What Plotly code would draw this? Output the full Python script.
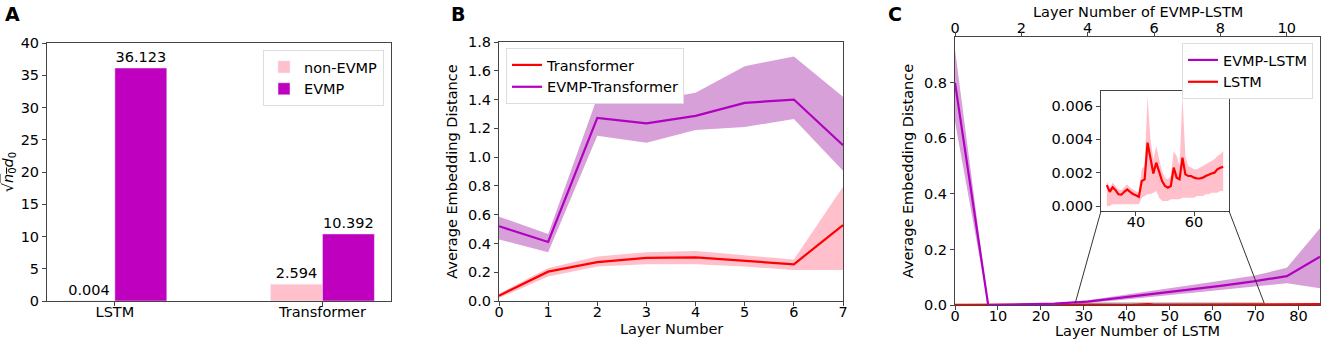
import plotly.graph_objects as go

# ---------------- Data ----------------
# Panel A
models = ["LSTM", "Transformer"]
non_evmp_vals = [0.004, 2.594]
evmp_vals = [36.123, 10.392]

# Panel B
layers_b = [0, 1, 2, 3, 4, 5, 6, 7]
tr_mean = [0.037, 0.204, 0.27, 0.30, 0.303, 0.28, 0.255, 0.528]
tr_upper = [0.05, 0.23, 0.31, 0.338, 0.347, 0.32, 0.289, 0.794]
tr_lower = [0.02, 0.17, 0.24, 0.255, 0.255, 0.24, 0.215, 0.215]
evtr_mean = [0.52, 0.41, 1.273, 1.234, 1.287, 1.377, 1.40, 1.083]
evtr_upper = [0.586, 0.465, 1.414, 1.39, 1.447, 1.632, 1.70, 1.42]
evtr_lower = [0.428, 0.338, 1.148, 1.10, 1.188, 1.21, 1.264, 0.905]

# Panel C - EVMP-LSTM (top axis)
layers_evlstm = [0, 1, 2, 3, 4, 5, 6, 7, 8, 9, 10, 11]
evlstm_mean = [0.80, 0.0, 0.002, 0.005, 0.012, 0.026, 0.040, 0.055, 0.069, 0.085, 0.104, 0.174]
evlstm_upper = [0.92, 0.0, 0.003, 0.007, 0.017, 0.034, 0.052, 0.070, 0.087, 0.105, 0.134, 0.276]
evlstm_lower = [0.66, 0.0, 0.001, 0.003, 0.008, 0.018, 0.030, 0.042, 0.053, 0.066, 0.078, 0.060]

# Panel C - LSTM (bottom axis), layers 0..85
lstm_layers = list(range(86))
lstm_mean = [
    0.0008, 0.0009, 0.0007, 0.0008, 0.0009, 0.0010, 0.0008, 0.0007, 0.0009, 0.0010,
    0.0011, 0.0009, 0.0008, 0.0010, 0.0012, 0.0011, 0.0009, 0.0010, 0.0012, 0.0013,
    0.0011, 0.0010, 0.0012, 0.0014, 0.0012, 0.0011, 0.0013, 0.0012, 0.0011, 0.0013,
    0.00125, 0.00085, 0.00112, 0.00095, 0.0007, 0.00068, 0.00085, 0.0010, 0.00085, 0.00072,
    0.00065, 0.00055, 0.0015, 0.0016, 0.0038, 0.0028, 0.00195, 0.0026, 0.0020, 0.0015,
    0.0012, 0.0011, 0.0012, 0.0023, 0.0017, 0.0016, 0.0029, 0.0019, 0.0018, 0.0018,
    0.0017, 0.00165, 0.00165, 0.0017, 0.0018, 0.0019, 0.00195, 0.0020, 0.0022, 0.0023,
    0.00235, 0.0024, 0.0025, 0.0026, 0.0026, 0.0027, 0.0028, 0.0029, 0.0030, 0.0030,
    0.0031, 0.0032, 0.0033, 0.0034, 0.0034, 0.0035,
]
# Inset (layers 30..70)
inset_layers = lstm_layers[30:71]
inset_mean = lstm_mean[30:71]
inset_upper = [
    0.0015, 0.0011, 0.0014, 0.0012, 0.0010, 0.00095, 0.0011, 0.0013, 0.0011, 0.0010,
    0.0009, 0.0008, 0.0022, 0.0024, 0.0066, 0.0040, 0.0028, 0.0036, 0.0028, 0.0021,
    0.0017, 0.0016, 0.0018, 0.0033, 0.0030, 0.0024, 0.0066, 0.0030, 0.0024, 0.0023,
    0.0022, 0.0022, 0.0023, 0.0024, 0.0025, 0.0026, 0.0027, 0.0028, 0.0030, 0.0031,
    0.0033,
]
inset_lower = [
    0.0000, 0.0000, 0.0001, 0.0001, 0.0001, 0.0001, 0.0001, 0.0001, 0.0001, 0.0001,
    0.0001, 0.0001, 0.0005, 0.0006, 0.0007, 0.0007, 0.0008, 0.0009, 0.0005, 0.0003,
    0.0003, 0.0003, 0.0004, 0.0004, 0.0004, 0.0004, 0.0005, 0.0005, 0.0005, 0.0005,
    0.0005, 0.0006, 0.0006, 0.0006, 0.0007, 0.0007, 0.0008, 0.0008, 0.0008, 0.0009,
    0.0009,
]

# ---------------- Styles ----------------
FONT = "DejaVu Sans"
FS = 14.5
PINK = "#FFC0CB"
MAG = "#BF00BF"
EVLINE = "#B000C0"
EVBAND = "rgb(216,160,216)"
RED = "#FF0000"
SPINE = "#444444"

fig = go.Figure()

# ---- Panel A ----
fig.add_trace(go.Bar(
    x=[0, 1], y=non_evmp_vals, name="non-EVMP", marker_color=PINK,
    text=[f"{v:.3f}" for v in non_evmp_vals], textposition="outside",
    textfont=dict(size=FS, color="black"), cliponaxis=False,
    xaxis="x", yaxis="y", legend="legend",
))
fig.add_trace(go.Bar(
    x=[0, 1], y=evmp_vals, name="EVMP", marker_color=MAG,
    text=[f"{v:.3f}" for v in evmp_vals], textposition="outside",
    textfont=dict(size=FS, color="black"), cliponaxis=False,
    xaxis="x", yaxis="y", legend="legend",
))

# ---- Panel B ----
def band(x, up, lo, color, xa, ya):
    return go.Scatter(
        x=list(x) + list(x)[::-1], y=list(up) + list(lo)[::-1],
        fill="toself", fillcolor=color, line=dict(width=0),
        mode="lines", hoverinfo="skip", showlegend=False, xaxis=xa, yaxis=ya,
    )

fig.add_trace(band(layers_b, evtr_upper, evtr_lower, EVBAND, "x2", "y2"))
fig.add_trace(band(layers_b, tr_upper, tr_lower, PINK, "x2", "y2"))
fig.add_trace(go.Scatter(x=layers_b, y=tr_mean, mode="lines", name="Transformer",
                         line=dict(color=RED, width=2.2), xaxis="x2", yaxis="y2", legend="legend2"))
fig.add_trace(go.Scatter(x=layers_b, y=evtr_mean, mode="lines", name="EVMP-Transformer",
                         line=dict(color=EVLINE, width=2.2), xaxis="x2", yaxis="y2", legend="legend2"))

# ---- Panel C ----
fig.add_trace(band(layers_evlstm, evlstm_upper, evlstm_lower, EVBAND, "x4", "y3"))
fig.add_trace(go.Scatter(x=layers_evlstm, y=evlstm_mean, mode="lines", name="EVMP-LSTM",
                         line=dict(color=EVLINE, width=2.2), xaxis="x4", yaxis="y3", legend="legend3"))
fig.add_trace(go.Scatter(x=lstm_layers, y=lstm_mean, mode="lines", name="LSTM",
                         line=dict(color=RED, width=2.2), xaxis="x3", yaxis="y3", legend="legend3"))

# Inset
fig.add_trace(band(inset_layers, inset_upper, inset_lower, PINK, "x5", "y5"))
fig.add_trace(go.Scatter(x=inset_layers, y=inset_mean, mode="lines", showlegend=False,
                         line=dict(color=RED, width=2.2), xaxis="x5", yaxis="y5"))

# Empty carrier traces so the label-only overlay axes get drawn
for xa, ya in [("x6", "y"), ("x7", "y2"), ("x8", "y3"), ("x9", "y5"), ("x10", "y3")]:
    fig.add_trace(go.Scatter(x=[], y=[], mode="lines", showlegend=False, hoverinfo="skip",
                             xaxis=xa, yaxis=ya))

# ---------------- Layout ----------------
W, H = 1325, 344
dA_x = [47 / W, 391 / W]
dA_y = [1 - 301 / H, 1 - 43 / H]
dB_x = [499 / W, 843 / W]
dB_y = [1 - 301 / H, 1 - 42 / H]
dC_x = [955 / W, 1320 / W]
dC_y = [1 - 305 / H, 1 - 37 / H]
dI_x = [1101 / W, 1229 / W]
dI_y = [1 - 211 / H, 1 - 91 / H]

A_XR = [-0.327, 1.33]
B_XR = [0, 7]
C_XR = [0, 85]
CT_XR = [0, 11]
C_YR = [0, 0.965]
I_XR = [28, 72]
I_YR = [-0.0003, 0.0069]

axis_common = dict(showline=True, linecolor=SPINE, linewidth=1, mirror=True,
                   ticks="outside", ticklen=4, tickcolor=SPINE, showgrid=False,
                   zeroline=False, tickfont=dict(size=FS, color="black"),
                   title_font=dict(size=FS, color="black"))
xmarks = {**axis_common, "showticklabels": False}
xlabels = dict(showline=False, ticks="", showgrid=False, zeroline=False,
               tickfont=dict(size=FS, color="black"))

fig.update_layout(
    width=W, height=H, margin=dict(l=0, r=0, t=0, b=0, autoexpand=False),
    paper_bgcolor="white", plot_bgcolor="white",
    font=dict(family=FONT, size=FS, color="black"),
    barmode="group", bargap=0.5, bargroupgap=0,
    # Panel A
    xaxis=dict(domain=dA_x, anchor="y", range=A_XR, tickvals=[0, 1], **xmarks),
    xaxis6=dict(overlaying="x", anchor="y", side="bottom", range=A_XR,
                tickvals=[0, 1], ticktext=models, **xlabels),
    yaxis=dict(domain=dA_y, anchor="x", range=[0, 40], dtick=5,
               title=dict(text="√<span style='text-decoration:overline'><i>n</i><sub>0</sub></span><i>d</i><sub>0</sub>",
                          standoff=6),
               **axis_common),
    # Panel B
    xaxis2=dict(domain=dB_x, anchor="y2", range=B_XR, dtick=1, **xmarks),
    xaxis7=dict(overlaying="x2", anchor="y2", side="bottom", range=B_XR, dtick=1, **xlabels),
    yaxis2=dict(domain=dB_y, anchor="x2", range=[0, 1.8], dtick=0.2, tickformat=".1f",
                title=dict(text="Average Embedding Distance", standoff=6), **axis_common),
    # Panel C
    xaxis3=dict(domain=dC_x, anchor="y3", range=C_XR, dtick=10, **{**xmarks, "mirror": False}),
    xaxis8=dict(overlaying="x3", anchor="y3", side="bottom", range=C_XR, dtick=10, **xlabels),
    xaxis4=dict(overlaying="x3", anchor="y3", side="top", range=CT_XR, dtick=2, **xlabels),
    xaxis10=dict(overlaying="x3", anchor="y3", side="top", range=CT_XR, dtick=2,
                 **{**xmarks, "mirror": False}),
    yaxis3=dict(domain=dC_y, anchor="x3", range=C_YR, tickvals=[0, 0.2, 0.4, 0.6, 0.8],
                tickformat=".1f",
                title=dict(text="Average Embedding Distance", standoff=6), **axis_common),
    # Inset
    xaxis5=dict(domain=dI_x, anchor="y5", range=I_XR, tickvals=[40, 60], **xmarks),
    xaxis9=dict(overlaying="x5", anchor="y5", side="bottom", range=I_XR, tickvals=[40, 60], **xlabels),
    yaxis5=dict(domain=dI_y, anchor="x5", range=I_YR, tickvals=[0, 0.002, 0.004, 0.006],
                tickformat=".3f", **axis_common),
    legend=dict(x=384 / W, y=1 - 50 / H, xanchor="right", yanchor="top",
                bgcolor="white", bordercolor="#DDDDDD", borderwidth=1,
                font=dict(size=FS), tracegroupgap=2),
    legend2=dict(x=506 / W, y=1 - 48 / H, xanchor="left", yanchor="top",
                 bgcolor="white", bordercolor="#DDDDDD", borderwidth=1,
                 font=dict(size=FS)),
    legend3=dict(x=1313 / W, y=1 - 43 / H, xanchor="right", yanchor="top",
                 bgcolor="white", bordercolor="#DDDDDD", borderwidth=1,
                 font=dict(size=FS)),
)

# Panel letters
for letter, px in [("A", 3), ("B", 449), ("C", 886)]:
    fig.add_annotation(text=f"<b>{letter}</b>", x=px / W, y=1 - 1 / H, xref="paper", yref="paper",
                       xanchor="left", yanchor="top", showarrow=False,
                       font=dict(size=19, family=FONT, color="black"))

# X-axis titles placed as annotations (tight layout as in reference)
for text, cx, cy in [("Layer Number", (dB_x[0] + dB_x[1]) / 2, 329),
                     ("Layer Number of LSTM", (dC_x[0] + dC_x[1]) / 2, 331),
                     ("Layer Number of EVMP-LSTM", (dC_x[0] + dC_x[1]) / 2, 12)]:
    fig.add_annotation(text=text, x=cx, y=1 - cy / H, xref="paper", yref="paper",
                       xanchor="center", yanchor="middle", showarrow=False,
                       font=dict(size=FS, family=FONT, color="black"))

# Inset indicator rectangle and connectors (main-panel data coords)
def paper_to_c(px, py):
    xm = C_XR[0] + (px - dC_x[0]) / (dC_x[1] - dC_x[0]) * (C_XR[1] - C_XR[0])
    ym = C_YR[0] + (py - dC_y[0]) / (dC_y[1] - dC_y[0]) * (C_YR[1] - C_YR[0])
    return xm, ym

fig.add_shape(type="rect", xref="x3", yref="y3", x0=I_XR[0], x1=I_XR[1],
              y0=I_YR[0], y1=I_YR[1], line=dict(color="#7A9A9A", width=1), layer="below")
blx, bly = paper_to_c(dI_x[0], dI_y[0])
brx, bry = paper_to_c(dI_x[1], dI_y[0])
fig.add_shape(type="line", xref="x3", yref="y3", x0=I_XR[0], y0=I_YR[1], x1=blx, y1=bly,
              line=dict(color="#333333", width=1))
fig.add_shape(type="line", xref="x3", yref="y3", x0=I_XR[1], y0=I_YR[1], x1=brx, y1=bry,
              line=dict(color="#333333", width=1))

fig.write_html("out.html", config={"displayModeBar": False},
               post_script="document.body.style.margin='0';document.body.style.padding='0';"
                           "document.documentElement.style.overflow='hidden';")
